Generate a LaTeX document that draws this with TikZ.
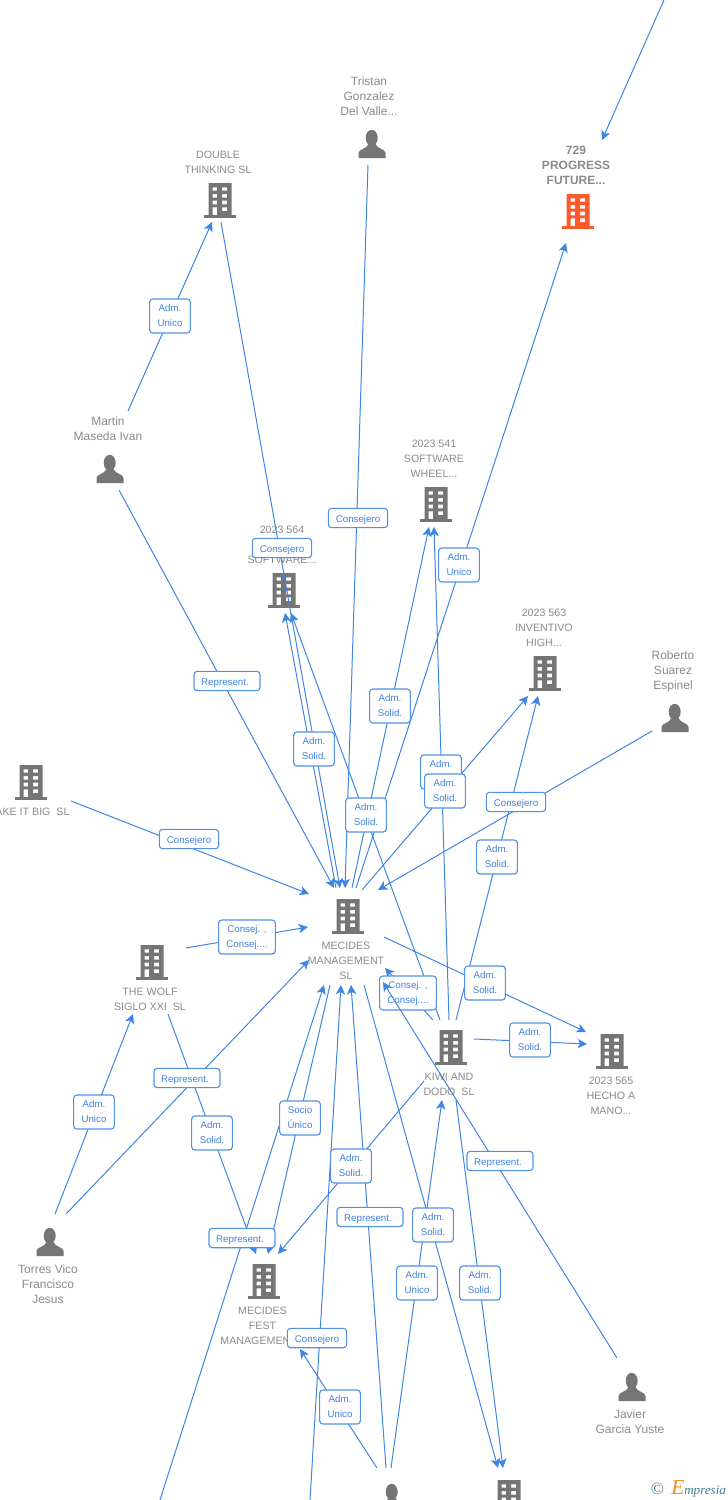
\documentclass[tikz,border=0pt]{standalone}
\usepackage{fontspec}
\setmainfont{Liberation Sans}
\newfontfamily\logofont{Liberation Serif}
\usetikzlibrary{arrows.meta}
\definecolor{linkblue}{HTML}{3D85E6}
\definecolor{labtext}{HTML}{3F82E0}
\definecolor{icongrey}{HTML}{757575}
\definecolor{entgrey}{HTML}{8A8A8A}
\definecolor{hotorange}{HTML}{FF5A2B}
\definecolor{logoteal}{HTML}{3F7C93}
\definecolor{logoorange}{HTML}{F08A1C}
\newcommand{\reptext}{Represent.\hspace*{3pt}}
\tikzset{
  link/.style={draw=linkblue,line width=0.75pt,-{Stealth[length=7pt,width=7pt,inset=1.8pt]}},
  ent/.style={text=entgrey,font=\fontsize{8}{11.25}\selectfont,align=center,inner sep=0pt,yshift=-0.75pt},
  entmixed/.style={text=entgrey,font=\fontsize{9}{11.25}\selectfont,align=center,inner sep=0pt},
  enthot/.style={text=entgrey,font=\fontsize{9}{11.25}\selectfont\bfseries,align=center,inner sep=0pt},
  labbase/.style={draw=linkblue!90,line width=0.85pt,fill=white,rounded corners=2.4pt,text=labtext,
    font=\fontsize{7.3}{11.25}\selectfont,align=center,inner sep=0pt,
    execute at begin node={\rule{0pt}{7.8pt}}},
  labtwo/.style={labbase,minimum width=30.5pt,minimum height=25.5pt},
  labcons/.style={labbase,minimum width=44.5pt,minimum height=14.5pt},
  labrep/.style={labbase,minimum width=49.5pt,minimum height=14.5pt},
  labcc/.style={labbase,minimum width=42.5pt,minimum height=25.5pt},
  pics/bldg/.style={code={
    \fill[#1] (-16,14.5) rectangle (16,17.5);
    \fill[#1,even odd rule] (-11.5,-17) rectangle (11.5,15)
      (-7.5,-12.7) rectangle (-3,-9.3) (2,-12.7) rectangle (7,-9.3)
      (-7.5,-6) rectangle (-3,-2.3) (2,-6) rectangle (7,-2.3)
      (-7.5,0.7) rectangle (-3,4.3) (2,0.7) rectangle (7,4.3)
      (-7.5,7.3) rectangle (-3,15) (2,7.3) rectangle (7,11);
  }},
  pics/person/.style={code={
    \fill[icongrey] (-0.3,-6.2) ellipse (6 and 8);
    \fill[icongrey] (-13.5,14) -- (-13.5,9) .. controls (-13.5,5) and (-5,5) .. (-3.5,0)
      -- (3.5,0) .. controls (5,5) and (13.5,5) .. (13.5,9) -- (13.5,14) -- cycle;
  }}
}
\begin{document}
\begin{tikzpicture}[x=0.75pt,y=-0.75pt]
\path[use as bounding box,clip] (0,0) rectangle (728,1500);
% entities: icons and names
\pic at (578,211) {bldg=hotorange};
\node[enthot] (progress) at (576,165) {729\\PROGRESS\\FUTURE...};
\pic at (372,144) {person};
\node[entmixed] (tristan) at (369,96) {Tristan\\Gonzalez\\Del Valle...};
\pic at (220,200) {bldg=icongrey};
\node[ent] (double) at (218,161.5) {DOUBLE\\THINKING SL};
\pic at (110,469) {person};
\node[entmixed] (martin) at (108,428.5) {Martin\\Maseda Ivan};
\pic at (436,504) {bldg=icongrey};
\node[ent] (wheel) at (434,458) {2023 541\\SOFTWARE\\WHEEL...};
\pic at (284,590) {bldg=icongrey};
\node[ent] (sw) at (282,544) {2023 564\\ \\SOFTWARE...};
\pic at (545,673) {bldg=icongrey};
\node[ent] (inv) at (544,627) {2023 563\\INVENTIVO\\HIGH...};
\pic at (675,718) {person};
\node[entmixed] (roberto) at (673,671) {Roberto\\Suarez\\Espinel};
\pic at (31,782) {bldg=icongrey};
\node[ent] (makeit) at (28,811) {MAKE IT BIG\ \ SL};
\pic at (348,916) {bldg=icongrey};
\node[ent] (mecides) at (346,960) {MECIDES\\MANAGEMENT\\SL};
\pic at (152,962) {bldg=icongrey};
\node[ent] (wolf) at (150,998.5) {THE WOLF\\SIGLO XXI\ \ SL};
\pic at (451,1047) {bldg=icongrey};
\node[ent] (kiwi) at (449,1083.5) {KIWI AND\\DODO\ \ SL};
\pic at (612,1051) {bldg=icongrey};
\node[ent] (hecho) at (611,1095) {2023 565\\HECHO A\\MANO...};
\pic at (50,1242) {person};
\node[entmixed] (torres) at (48,1284) {Torres Vico\\Francisco\\Jesus};
\pic at (264,1281) {bldg=icongrey};
\node[ent] (fest) at (262.5,1325) {MECIDES\\FEST\\MANAGEMENT...};
\pic at (632,1387) {person};
\node[entmixed] (javier) at (630,1421.5) {Javier\\Garcia Yuste};
\pic at (392,1498) {person};
\pic at (509,1497) {bldg=icongrey};
% connector ends
\coordinate (offA) at (664,0);
\coordinate (progTop) at (602,140);
\coordinate (progBot) at (566,243);
\coordinate (marUp) at (128,411);
\coordinate (marDown) at (119,490);
\coordinate (dtIn) at (212,222);
\coordinate (dtOut) at (221,222);
\coordinate (triOut) at (368,165);
\coordinate (robOut) at (652,731);
\coordinate (mkOut) at (71,801);
\coordinate (swInA) at (285,613);
\coordinate (swInB) at (291,613);
\coordinate (whInA) at (429,527);
\coordinate (whInB) at (434,527);
\coordinate (invInA) at (528,696);
\coordinate (invInB) at (538,696);
\coordinate (mTopB) at (340,888);
\coordinate (mTopC) at (345,888);
\coordinate (mTopD) at (334,888);
\coordinate (mOutA) at (336,888);
\coordinate (mOutB) at (352,888);
\coordinate (mOutC) at (356,888);
\coordinate (mOutD) at (362,890);
\coordinate (mInRob) at (378,890);
\coordinate (mInMk) at (309,894);
\coordinate (mInWolf) at (308,927);
\coordinate (mInTor) at (309,960);
\coordinate (mBotA) at (324,985);
\coordinate (mBotB) at (341,985);
\coordinate (mBotC) at (351,985);
\coordinate (mOutE) at (330,985);
\coordinate (mOutF) at (364,985);
\coordinate (mOutG) at (384,937);
\coordinate (mInKiwi) at (385,968);
\coordinate (mInJav) at (383,982);
\coordinate (wolfOut) at (186,948);
\coordinate (wolfBot) at (168,1014);
\coordinate (wolfIn) at (133,1014);
\coordinate (torA) at (55,1214);
\coordinate (torB) at (66,1214);
\coordinate (kTopA) at (433,1020);
\coordinate (kTopB) at (449,1020);
\coordinate (kTopC) at (456,1020);
\coordinate (kTopD) at (440,1020);
\coordinate (kRight) at (474,1039);
\coordinate (kLeft) at (424,1081);
\coordinate (kIn) at (442,1100);
\coordinate (kBot) at (456,1100);
\coordinate (heA) at (586,1032);
\coordinate (heB) at (587,1044);
\coordinate (feA) at (256,1254);
\coordinate (feB) at (268,1254);
\coordinate (feC) at (278,1254);
\coordinate (feD) at (300,1349);
\coordinate (offB) at (160,1500);
\coordinate (offC) at (310,1500);
\coordinate (perA) at (377,1468);
\coordinate (perB) at (386,1468);
\coordinate (perC) at (391,1468);
\coordinate (bbA) at (498,1468);
\coordinate (bbB) at (503,1468);
\coordinate (javOut) at (617,1358);
% connectors under the labels
\draw[link] (offA) -- (progTop);
\draw[link] (marUp) -- (dtIn);
\draw[link] (marDown) -- (mTopD);
\draw[link] (dtOut) -- (mTopB);
\draw[link] (mOutA) -- (swInA);
\draw[link] (kTopD) -- (swInB);
\draw[link] (triOut) -- (mTopC);
\draw[link] (mOutB) -- (whInA);
\draw[link] (mOutC) -- (progBot);
\draw[link] (kTopB) -- (whInB);
\draw[link] (mOutD) -- (invInA);
\draw[link] (kTopC) -- (invInB);
\draw[link] (robOut) -- (mInRob);
\draw[link] (mkOut) -- (mInMk);
\draw[link] (wolfOut) -- (mInWolf);
\draw[link] (wolfBot) -- (feA);
\draw[link] (torA) -- (wolfIn);
\draw[link] (torB) -- (mInTor);
\draw[link] (offB) -- (mBotA);
\draw[link] (mOutE) -- (feB);
\draw[link] (kLeft) -- (feC);
\draw[link] (perB) -- (mBotC);
\draw[link] (offC) -- (mBotB);
\draw[link] (perA) -- (feD);
\draw[link] (perC) -- (kIn);
\draw[link] (mOutF) -- (bbA);
\draw[link] (kBot) -- (bbB);
\draw[link] (kTopA) -- (mInKiwi);
\draw[link] (mOutG) -- (heA);
\draw[link] (kRight) -- (heB);
% labels
\node[labtwo] (l1) at (170,316) {Adm.\\Unico};
\node[labcons] (l2) at (282,548) {Consejero};
\node[labcons] (l3) at (358,518) {Consejero};
\node[labtwo] (l4) at (459,565) {Adm.\\Unico};
\node[labtwo] (l5) at (390,706) {Adm.\\Solid.};
\node[labrep] (l6) at (227,681) {\reptext};
\node[labtwo] (l7) at (314,749) {Adm.\\Solid.};
\node[labtwo] (l8) at (366,815) {Adm.\\Solid.};
\node[labtwo] (l9) at (441,772) {Adm.\\Solid.};
\node[labtwo] (l10) at (445,791) {Adm.\\Solid.};
\node[labcons] (l11) at (516,802) {Consejero};
\node[labtwo] (l12) at (497,857) {Adm.\\Solid.};
\node[labcons] (l13) at (189,839) {Consejero};
\node[labcc] (l14) at (247,937) {Consej. ,\\Consej....};
\node[labcc] (l15) at (408,993) {Consej. ,\\Consej....};
\node[labtwo] (l16) at (485,983) {Adm.\\Solid.};
\node[labtwo] (l17) at (530,1040) {Adm.\\Solid.};
\node[labrep] (l18) at (187,1078) {\reptext};
\node[labtwo] (l19) at (94,1112) {Adm.\\Unico};
\node[labtwo] (l20) at (212,1133) {Adm.\\Solid.};
\node[labtwo] (l21) at (300,1118) {Socio\\Único};
\node[labtwo] (l22) at (351,1166) {Adm.\\Solid.};
\node[labrep] (l24) at (370,1217) {\reptext};
\node[labrep] (l25) at (242,1238) {\reptext};
\node[labtwo] (l26) at (433,1225) {Adm.\\Solid.};
\node[labtwo] (l27) at (417,1283) {Adm.\\Unico};
\node[labtwo] (l28) at (480,1283) {Adm.\\Solid.};
\node[labcons] (l29) at (317,1338) {Consejero};
\node[labtwo] (l30) at (340,1407) {Adm.\\Unico};
% this connector runs over the Consej. label but under its own
\draw[link] (javOut) -- (mInJav);
\node[labrep] (l23) at (500,1161) {\reptext};
% logo
\node[text=logoteal,font=\fontsize{13}{13}\selectfont\logofont,inner sep=0pt] (logoC) at (657.5,1489) {©};
\node[text=logoteal,font=\fontsize{9.8}{9.8}\selectfont\logofont\itshape,inner sep=0pt,anchor=base west] (logoT) at (671,1494)
  {\textcolor{logoorange}{\fontsize{16}{16}\selectfont E}mpresia};
\end{tikzpicture}
\end{document}
